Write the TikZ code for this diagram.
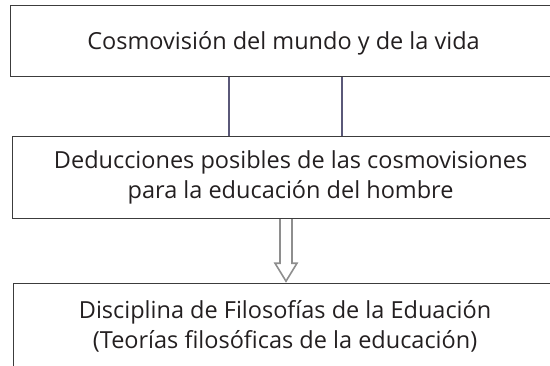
\documentclass[tikz,border=0pt]{standalone}
\usepackage{fontspec}
\setmainfont{Open Sans}
\usetikzlibrary{arrows.meta}
\definecolor{ink}{HTML}{231F20}
\definecolor{frame}{HTML}{3C3C3C}
\definecolor{linkc}{HTML}{5A5878}
\definecolor{hollowc}{HTML}{8E8E8E}

\begin{document}
\begin{tikzpicture}[
  x=1pt, y=-1pt,
  box/.style    = {draw=frame, line width=1.2pt, anchor=north west,
                   inner sep=0pt, align=center, text=ink,
                   font=\fontsize{23.5}{29.5}\selectfont},
  link/.style   = {draw=linkc, line width=1.1pt},
  hollow/.style = {draw=hollowc, line width=1.6pt, line join=miter},
]
  \useasboundingbox (0,0) rectangle (550,365);
  \clip (0,0) rectangle (550,365);

  % the boxes run out past the right edge (and the last one past the bottom)
  \node[box, minimum width=546, minimum height=71, text depth=1pt] (cosmo) at (10,5)
    {Cosmovisión del mundo y de la vida};
  \node[box, minimum width=556, minimum height=82] (deduc) at (12,136)
    {Deducciones posibles de las cosmovisiones\\para la educación del hombre};
  \node[box, minimum width=543, minimum height=86] (disc) at (13,283)
    {Disciplina de Filosofías de la Eduación\\(Teorías filosóficas de la educación)};

  \draw[link] (cosmo.south -| 229,0) -- (deduc.north -| 229,0);
  \draw[link] (cosmo.south -| 342,0) -- (deduc.north -| 342,0);

  % hollow arrow, open where it meets the box above
  \draw[hollow] (deduc.south -| 280,0) -- ++(0,44) -- ++(-5,0) -- ++(11,18)
    -- ++(11,-18) -- ++(-5,0) -- (deduc.south -| 292,0);
\end{tikzpicture}
\end{document}
